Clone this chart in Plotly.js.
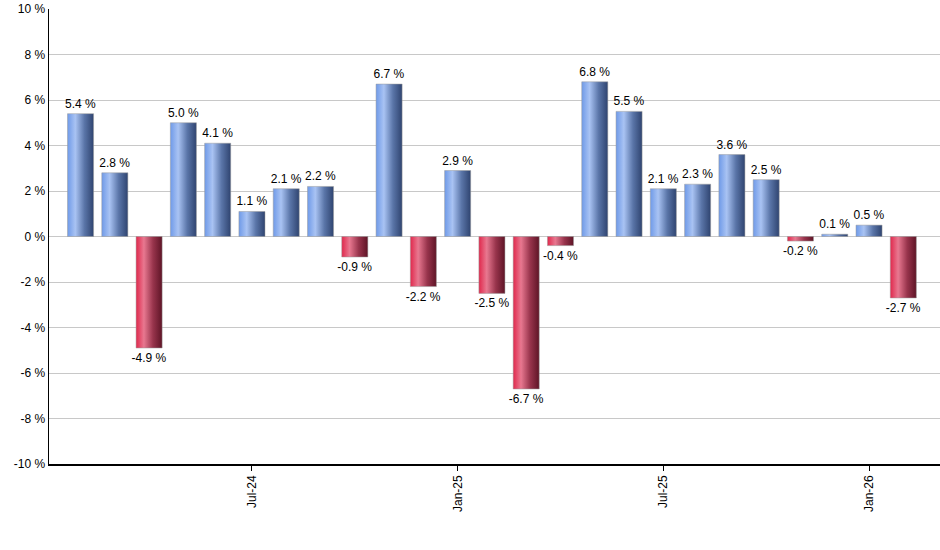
<!DOCTYPE html>
<html>
<head>
<meta charset="utf-8">
<script src="https://cdn.plot.ly/plotly-3.0.1.min.js"></script>
<style>
  html, body { margin: 0; padding: 0; background: #fff; }
  #chart { width: 940px; height: 550px; }
</style>
</head>
<body>
<div id="chart"></div>
<script>
// monthly returns, Feb-24 .. Feb-26
const months = [
  'Feb-24', 'Mar-24', 'Apr-24', 'May-24', 'Jun-24', 'Jul-24', 'Aug-24', 'Sep-24', 'Oct-24',
  'Nov-24', 'Dec-24', 'Jan-25', 'Feb-25', 'Mar-25', 'Apr-25', 'May-25', 'Jun-25', 'Jul-25',
  'Aug-25', 'Sep-25', 'Oct-25', 'Nov-25', 'Dec-25', 'Jan-26', 'Feb-26',
];
const returns = [
  5.4, 2.8, -4.9, 5.0, 4.1, 1.1, 2.1, 2.2, -0.9,
  6.7, -2.2, 2.9, -2.5, -6.7, -0.4, 6.8, 5.5, 2.1,
  2.3, 3.6, 2.5, -0.2, 0.1, 0.5, -2.7,
];
const tickMonths = ['Jul-24', 'Jan-25', 'Jul-25', 'Jan-26'];
const yTicks = [-10, -8, -6, -4, -2, 0, 2, 4, 6, 8, 10];

const FONT = 'Liberation Sans, Arial, sans-serif';
const gd = document.getElementById('chart');

const trace = {
  type: 'bar',
  x: months,
  y: returns,
  marker: {
    color: returns.map((v) => (v < 0 ? '#b8304c' : '#6a8fd0')),
    line: { width: 0 },
  },
  text: returns.map((v) => `${v.toFixed(1)} %`),
  textposition: 'outside',
  constraintext: 'none',
  cliponaxis: false,
  textfont: { family: FONT, size: 12, color: '#000' },
  hoverinfo: 'none',
};

const layout = {
  width: 940,
  height: 550,
  margin: { l: 49, r: 0, t: 9, b: 86 },
  paper_bgcolor: '#fff',
  plot_bgcolor: '#fff',
  bargap: 0.24,
  showlegend: false,
  font: { family: FONT, size: 12, color: '#000' },
  xaxis: {
    type: 'category',
    range: [-0.92, 25.07],
    tickmode: 'array',
    tickvals: tickMonths,
    ticktext: tickMonths,
    tickangle: -90,
    ticks: 'outside',
    ticklen: 5,
    tickcolor: '#000',
    showgrid: false,
    showline: true,
    linecolor: '#000',
    linewidth: 1.5,
    zeroline: false,
  },
  yaxis: {
    range: [-10, 10],
    tickmode: 'array',
    tickvals: yTicks,
    // plain hyphen for negatives, like the original
    ticktext: yTicks.map((v) => `${v} %`),
    showgrid: true,
    gridcolor: '#c8c8c8',
    showline: true,
    linecolor: '#000',
    linewidth: 1.5,
    zeroline: true,
    zerolinecolor: '#c8c8c8',
    zerolinewidth: 1,
    ticks: '',
  },
};

function addGradient(defs, id, stops) {
  const ns = 'http://www.w3.org/2000/svg';
  const grad = document.createElementNS(ns, 'linearGradient');
  grad.setAttribute('id', id);
  grad.setAttribute('x1', '0');
  grad.setAttribute('x2', '1');
  grad.setAttribute('y1', '0');
  grad.setAttribute('y2', '0');
  stops.forEach(([offset, color]) => {
    const s = document.createElementNS(ns, 'stop');
    s.setAttribute('offset', offset);
    s.setAttribute('stop-color', color);
    grad.appendChild(s);
  });
  defs.appendChild(grad);
}

Plotly.newPlot(gd, [trace], layout, { displayModeBar: false, staticPlot: true }).then(() => {
  // plotly has no gradient fill for bars, so swap the fill for svg gradients
  const defs = gd.querySelector('svg.main-svg defs');
  addGradient(defs, 'gradUp', [
    ['0', '#6f9ae8'], ['0.3', '#a9c3f3'], ['0.65', '#5a75a8'], ['1', '#2f4470'],
  ]);
  addGradient(defs, 'gradDown', [
    ['0', '#e0284c'], ['0.3', '#e87890'], ['0.65', '#98344c'], ['1', '#5e1426'],
  ]);
  gd.querySelectorAll('.barlayer .point path').forEach((p, i) => {
    p.style.fill = returns[i] < 0 ? 'url(#gradDown)' : 'url(#gradUp)';
    p.style.stroke = '#9a9a9a';
    p.style.strokeWidth = '0.5px';
  });
});
</script>
</body>
</html>
